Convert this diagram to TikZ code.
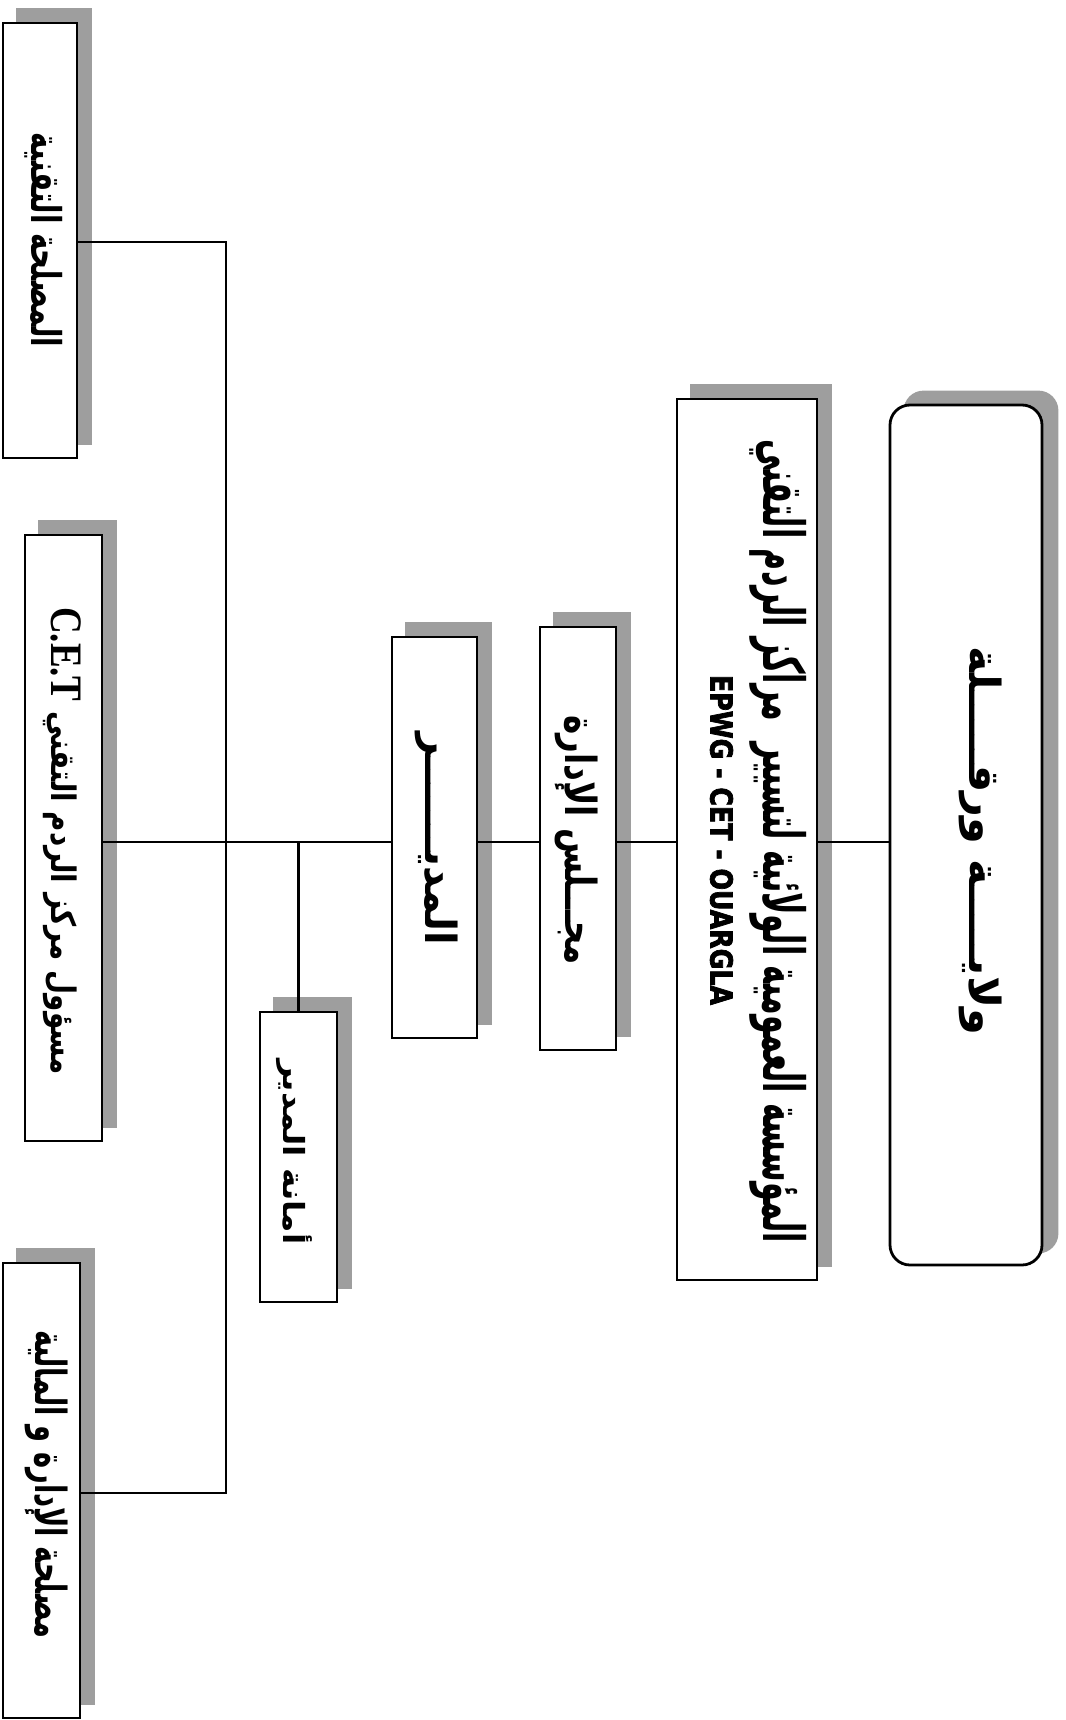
\documentclass[tikz,border=0pt]{standalone}
\usepackage{fontspec}
\usetikzlibrary{backgrounds}
\newfontfamily\arabicfont[Script=Arabic]{DejaVu Sans}
\newfontfamily\condfont[FakeBold=2.5]{DejaVu Sans Condensed Bold}
\newfontfamily\timesfont{Liberation Serif}
\TeXXeTstate=1
\newcommand{\ar}[1]{{\arabicfont\bfseries\fontsize{30}{36}\selectfont\beginR #1\endR}}
\tikzset{
  orgbox/.style={draw=black, line width=2.8pt, fill=white, rotate=-90, inner sep=0pt},
  shadefill/.style={fill=black!38},
  conn/.style={line width=2.2pt},
  lbl/.style={rotate=-90, inner sep=0pt, text=black}
}
\begin{document}
\begin{tikzpicture}[x=1pt,y=-1pt]
\useasboundingbox (0,0) rectangle (1065,1720);
% boxes
\node[orgbox, rounded corners=20pt, minimum width=860pt, minimum height=152pt] (wil) at (966,835) {};
\node[orgbox, minimum width=881pt, minimum height=140pt] (epwg) at (747,839.5) {};
\node[orgbox, minimum width=423pt, minimum height=76pt] (majlis) at (578,838.5) {};
\node[orgbox, minimum width=401pt, minimum height=85pt] (mudir) at (434.5,837.5) {};
\node[orgbox, minimum width=290pt, minimum height=77pt] (amana) at (298.5,1157) {};
\node[orgbox, minimum width=435pt, minimum height=74pt] (tech) at (40,240.5) {};
\node[orgbox, minimum width=606pt, minimum height=77pt] (cet) at (63.5,838) {};
\node[orgbox, minimum width=455pt, minimum height=77pt] (admin) at (41.5,1490.5) {};
% shadows
\begin{scope}[on background layer]
\fill[shadefill, rounded corners=20pt] ([xshift=15pt,yshift=13pt]wil.north west) rectangle ([xshift=15pt,yshift=13pt]wil.south east);
\foreach \n in {epwg,majlis,mudir,amana,tech,cet,admin}
  \fill[shadefill] ([xshift=14pt,yshift=14pt]\n.north west) rectangle ([xshift=14pt,yshift=14pt]\n.south east);
\end{scope}
% connectors
\coordinate (ty) at (0,842);
\coordinate (j1) at (226,242);
\coordinate (j2) at (226,1493);
\draw[conn] (wil.south |- ty) -- (epwg.north |- ty);
\draw[conn] (epwg.south |- ty) -- (majlis.north |- ty);
\draw[conn] (majlis.south |- ty) -- (mudir.north |- ty);
\draw[conn] (mudir.south |- ty) -- (cet.north |- ty);
\draw[conn] (tech.north |- j1) -- (j1) -- (j2) -- (admin.north |- j2);
\draw[conn] (amana.west |- ty) -- (amana.west);
% texts
\node[lbl] (twil) at (981,841) {\resizebox*{388pt}{43pt}{\ar{ولايـــــة ورقـــــلة}}};
\node[lbl] (tepwg1) at (778,841.5) {\resizebox*{803pt}{57pt}{\ar{المؤسسة العمومية الولائية لتسيير \ مراكز الردم التقني}}};
\node[lbl] (tepwg2) at (721.5,840) {\resizebox*{330pt}{23pt}{\condfont EPWG - CET - OUARGLA}};
\node[lbl] (tmajlis) at (576.5,840) {\resizebox*{250pt}{43pt}{\ar{مجـــلس الإدارة}}};
\node[lbl] (tmudir) at (436.5,838.5) {\resizebox*{213pt}{43pt}{\ar{المديـــــــر}}};
\node[lbl] (tamana) at (294,1152) {\resizebox*{185pt}{36pt}{\ar{أمانة المدير}}};
\node[lbl] (ttech) at (44,240) {\resizebox*{214pt}{38pt}{\ar{المصلحة التقنية}}};
\node[lbl] (tcet) at (62,841) {\resizebox*{468pt}{38pt}{\ar{مسؤول مركز الردم التقني \beginL{\timesfont\bfseries\fontsize{40}{44}\selectfont C.E.T}\endL}}};
\node[lbl] (tadmin) at (46.5,1484) {\resizebox*{308pt}{43pt}{\ar{مصلحة الإدارة و المالية}}};
\end{tikzpicture}
\end{document}
